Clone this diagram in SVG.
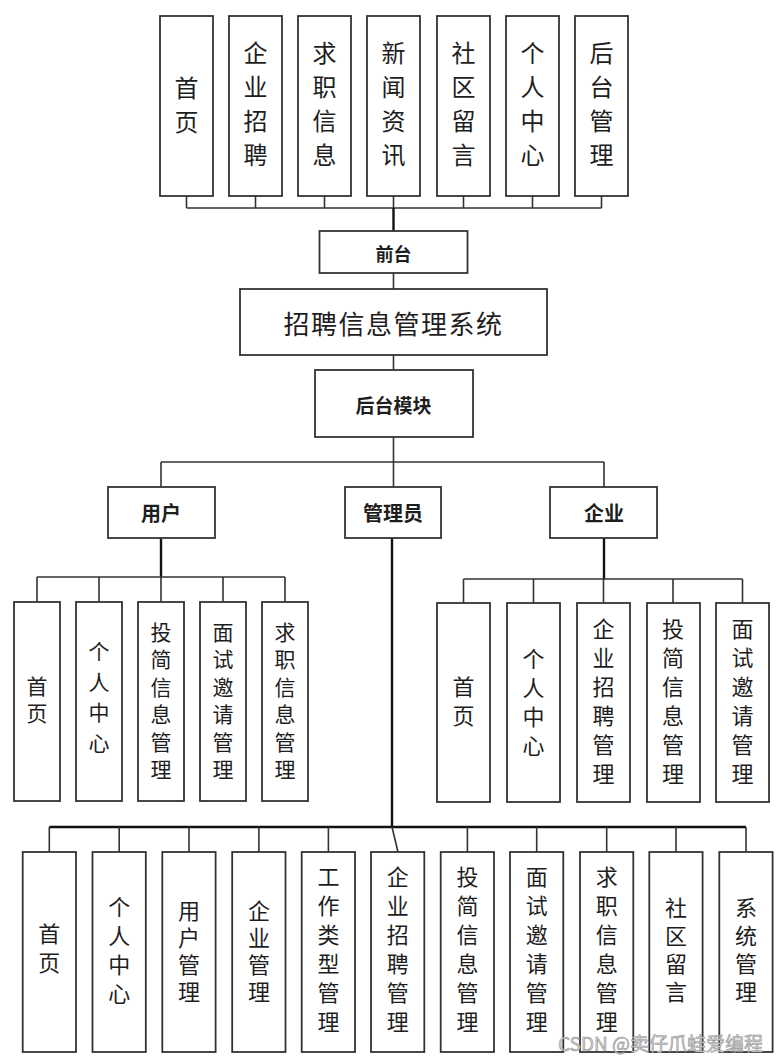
<svg xmlns="http://www.w3.org/2000/svg" width="783" height="1064" viewBox="0 0 783 1064">
<style>
.bg{fill:#fff}
.box{fill:#fff;stroke:#333;stroke-width:1.8}
.ln{fill:none;stroke:#333;stroke-width:1.6}
.th{fill:none;stroke:#111;stroke-width:2.4}
text{font-family:"Noto Sans CJK SC","Noto Sans",sans-serif;fill:#1e1e1e;text-anchor:middle;dominant-baseline:central}
.v{writing-mode:vertical-rl;text-orientation:upright}
.t24{font-size:24px;letter-spacing:10px}
.t22{font-size:21px;letter-spacing:6.5px}
.t23{font-size:22px;letter-spacing:7px}
.hd{font-size:20px;font-weight:bold}
.wm{font-size:19px;fill:#d0d0d0;stroke:#8a8a8a;stroke-width:0.5;text-anchor:start;dominant-baseline:auto}
</style>
<rect class="bg" x="0" y="0" width="783" height="1064"/>

<g id="connectors">
  <path class="ln" d="M186.5 196V208M255.5 196V208M324.5 196V208M393.5 196V208M463.5 196V208M532.5 196V208M601.5 196V208M186.5 208H601.5"/>
  <path class="th" d="M393.5 208V231"/>
  <path class="ln" d="M393.5 273V289M393.5 355V370M393.5 437V462M161 462H604M161 462V487M393.5 462V487M604 462V487"/>
  <path class="th" d="M161 538V577"/>
  <path class="ln" d="M37 577H285M37 577V602M99 577V602M161 577V602M223 577V602M285 577V602"/>
  <path class="th" d="M604 538V579"/>
  <path class="ln" d="M463.5 579H742.5M463.5 579V603M533.5 579V603M603.5 579V603M673 579V603M742.5 579V603"/>
  <path class="th" d="M392 538V827M49.3 827H746"/>
  <path class="ln" d="M49.3 827V852M119.2 827V852M189 827V852M258.9 827V852M328.4 827V852M392 827L398 852M467.4 827V852M536.7 827V852M606.7 827V852M676 827V852M746 827V852"/>
</g>

<g id="top-1"><rect class="box" x="160" y="16" width="53" height="180"/><text class="v t24" x="186.5" y="110">首页</text></g>
<g id="top-2"><rect class="box" x="229" y="16" width="53" height="180"/><text class="v t24" x="255.5" y="109">企业招聘</text></g>
<g id="top-3"><rect class="box" x="298" y="16" width="53" height="180"/><text class="v t24" x="324.5" y="109">求职信息</text></g>
<g id="top-4"><rect class="box" x="367" y="16" width="53" height="180"/><text class="v t24" x="393.5" y="109">新闻资讯</text></g>
<g id="top-5"><rect class="box" x="437" y="16" width="53" height="180"/><text class="v t24" x="463.5" y="109">社区留言</text></g>
<g id="top-6"><rect class="box" x="506" y="16" width="53" height="180"/><text class="v t24" x="532.5" y="109">个人中心</text></g>
<g id="top-7"><rect class="box" x="575" y="16" width="53" height="180"/><text class="v t24" x="601.5" y="109">后台管理</text></g>

<g id="qiantai"><rect class="box" x="319.5" y="231" width="148" height="42"/><text x="393.5" y="253" style="font-size:18px;font-weight:bold">前台</text></g>
<g id="system"><rect class="box" x="240" y="289" width="307" height="66"/><text x="393.5" y="322" style="font-size:26px;letter-spacing:1.5px">招聘信息管理系统</text></g>
<g id="houtai"><rect class="box" x="315" y="370" width="158" height="67"/><text x="393.5" y="404" style="font-size:19px;font-weight:bold">后台模块</text></g>

<g id="user"><rect class="box" x="108" y="487" width="107" height="51"/><text class="hd" x="161" y="512">用户</text></g>
<g id="admin"><rect class="box" x="345" y="487" width="96" height="51"/><text class="hd" x="393" y="512">管理员</text></g>
<g id="company"><rect class="box" x="550" y="487" width="107" height="51"/><text class="hd" x="604" y="512">企业</text></g>

<g id="u1"><rect class="box" x="14" y="602" width="46" height="199"/><text class="v t22" x="37" y="703">首页</text></g>
<g id="u2"><rect class="box" x="76" y="602" width="46" height="199"/><text class="v t22" x="99" y="702" style="letter-spacing:9.5px">个人中心</text></g>
<g id="u3"><rect class="box" x="138" y="602" width="46" height="199"/><text class="v t22" x="161" y="704">投简信息管理</text></g>
<g id="u4"><rect class="box" x="200" y="602" width="46" height="199"/><text class="v t22" x="223" y="704">面试邀请管理</text></g>
<g id="u5"><rect class="box" x="262" y="602" width="46" height="199"/><text class="v t22" x="285" y="704">求职信息管理</text></g>

<g id="c1"><rect class="box" x="437" y="603" width="53" height="199"/><text class="v t23" x="463.5" y="705">首页</text></g>
<g id="c2"><rect class="box" x="507" y="603" width="53" height="199"/><text class="v t23" x="533.5" y="706">个人中心</text></g>
<g id="c3"><rect class="box" x="577" y="603" width="53" height="199"/><text class="v t23" x="603.5" y="705">企业招聘管理</text></g>
<g id="c4"><rect class="box" x="647" y="603" width="53" height="199"/><text class="v t23" x="673" y="705">投简信息管理</text></g>
<g id="c5"><rect class="box" x="716" y="603" width="53" height="199"/><text class="v t23" x="742.5" y="705">面试邀请管理</text></g>

<g id="a1"><rect class="box" x="22.7" y="852" width="53.3" height="200"/><text class="v t23" x="49.3" y="952">首页</text></g>
<g id="a2"><rect class="box" x="92.5" y="852" width="53.3" height="200"/><text class="v t23" x="119.2" y="954">个人中心</text></g>
<g id="a3"><rect class="box" x="162.3" y="852" width="53.3" height="200"/><text class="v t23" x="189" y="954" style="letter-spacing:5px">用户管理</text></g>
<g id="a4"><rect class="box" x="232.2" y="852" width="53.3" height="200"/><text class="v t23" x="258.9" y="954" style="letter-spacing:5px">企业管理</text></g>
<g id="a5"><rect class="box" x="301.7" y="852" width="53.3" height="200"/><text class="v t23" x="328.4" y="953">工作类型管理</text></g>
<g id="a6"><rect class="box" x="371" y="852" width="53.3" height="200"/><text class="v t23" x="397.7" y="953">企业招聘管理</text></g>
<g id="a7"><rect class="box" x="440.7" y="852" width="53.3" height="200"/><text class="v t23" x="467.4" y="953">投简信息管理</text></g>
<g id="a8"><rect class="box" x="510" y="852" width="53.3" height="200"/><text class="v t23" x="536.7" y="953">面试邀请管理</text></g>
<g id="a9"><rect class="box" x="580" y="852" width="53.3" height="200"/><text class="v t23" x="606.7" y="953">求职信息管理</text></g>
<g id="a10"><rect class="box" x="649.3" y="852" width="53.3" height="200"/><text class="v t23" x="676" y="953" style="letter-spacing:6px">社区留言</text></g>
<g id="a11"><rect class="box" x="719.3" y="852" width="53.3" height="200"/><text class="v t23" x="746" y="953" style="letter-spacing:6px">系统管理</text></g>

<text class="wm" x="558" y="1051">CSDN @卖仔爪蛙爱编程</text>
</svg>
